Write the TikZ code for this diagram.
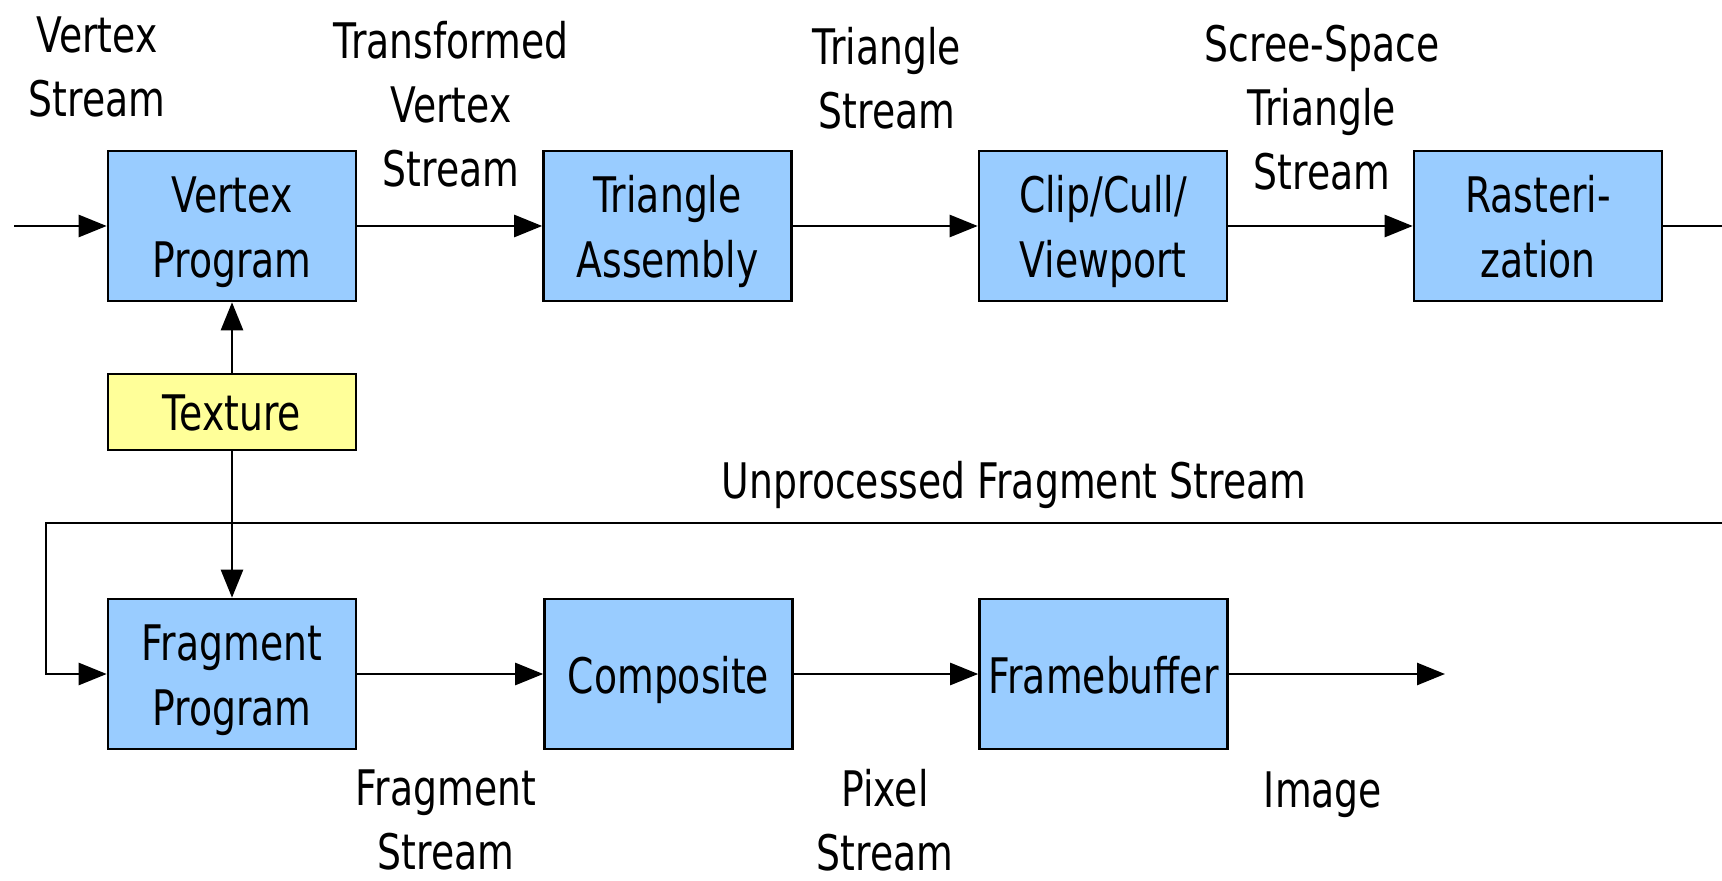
\documentclass[tikz,border=0pt]{standalone}
\usepackage{fontspec}
\setmainfont{DejaVu Sans}[FakeStretch=0.77]
\usetikzlibrary{arrows.meta}
\definecolor{boxblue}{HTML}{99CCFF}
\definecolor{boxyellow}{HTML}{FFFF99}
\newcommand\tpstrut{\rule{0pt}{25pt}}
\newcommand\btstrut{\rule[-6pt]{0pt}{6pt}}
\begin{document}
\begin{tikzpicture}[x=0.5pt,y=-0.5pt,
  stage/.style={draw=black, line width=1.3pt, fill=boxblue, minimum width=124pt, minimum height=75pt, inner sep=0pt, align=center, font=\fontsize{24.5}{32.5}\selectfont},
  texbox/.style={stage, fill=boxyellow, minimum height=38pt},
  lbl/.style={inner sep=0pt, align=center, font=\fontsize{24.5}{32}\selectfont},
  flow/.style={line width=1.3pt, -{Triangle[length=14pt,width=11pt]}},
  wire/.style={line width=1.3pt}]
\useasboundingbox (0,0) rectangle (1722,881);
\fill[white] (0,0) rectangle (1722,881);

% boxes
\node[stage] (vp) at (232,226) {\tpstrut Vertex\\Program\btstrut};
\node[stage] (ta) at (667.5,226) {\tpstrut Triangle\\Assembly\btstrut};
\node[stage] (ccv) at (1103,226) {\tpstrut Clip/Cull/\\Viewport\btstrut};
\node[stage] (ras) at (1538,226) {\tpstrut Rasteri-\\zation\btstrut};
\node[texbox] (tx) at (232,412) {\tpstrut Texture\btstrut};
\node[stage] (fp) at (232,674) {\tpstrut Fragment\\Program\btstrut};
\node[stage] (cmp) at (668.5,674) {\tpstrut Composite\btstrut};
\node[stage] (fb) at (1103.5,674) {\tpstrut Framebuffer\btstrut};

% free ends
\coordinate (vin) at (14,226);
\coordinate (rout) at (1722,226);
\coordinate (fbr) at (1722,523);
\coordinate (fbl) at (46,523);
\coordinate (imgend) at (1445,674);

% connectors
\draw[flow] (vin) -- (vp);
\draw[flow] (vp) -- (ta);
\draw[flow] (ta) -- (ccv);
\draw[flow] (ccv) -- (ras);
\draw[wire] (ras) -- (rout);
\draw[flow] (tx) -- (vp);
\draw[flow] (tx) -- (fp);
\draw[flow] (fbr) -- (fbl) |- (fp.west);
\draw[flow] (fp) -- (cmp);
\draw[flow] (cmp) -- (fb);
\draw[flow] (fb) -- (imgend);

% labels
\node[lbl] (l1) at (97,67) {Vertex\\Stream};
\node[lbl] (l2) at (451,104) {Transformed\\Vertex\\Stream};
\node[lbl] (l3) at (887,78) {Triangle\\Stream};
\node[lbl] (l4) at (1322,108) {Scree-Space\\Triangle\\Stream};
\node[lbl] (l5) at (1014,485) {Unprocessed Fragment Stream};
\node[lbl] (l6) at (446,820) {Fragment\\Stream};
\node[lbl] (l7) at (885,820) {Pixel\\Stream};
\node[lbl] (l8) at (1323,795) {Image};
\end{tikzpicture}
\end{document}
